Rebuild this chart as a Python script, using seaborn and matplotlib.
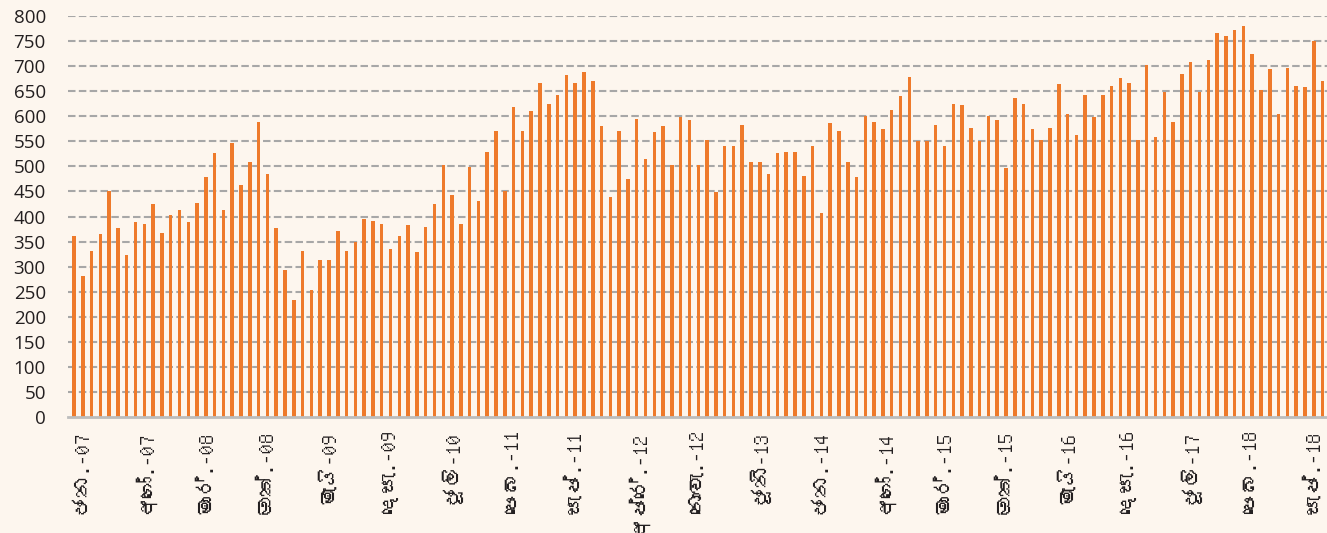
import numpy as np
import pandas as pd
import matplotlib
matplotlib.use("Agg")
import matplotlib.pyplot as plt
import seaborn as sns
from matplotlib import font_manager, ft2font

# monthly values, Jan 2007 - Nov 2018
values = [
    361, 281, 332, 365, 451, 377, 323, 389, 385, 425, 368, 403,
    413, 389, 427, 479, 527, 413, 547, 463, 509, 589, 485, 377,
    293, 233, 332, 254, 314, 314, 371, 332, 350, 395, 391, 385,
    335, 362, 383, 329, 379, 425, 503, 443, 385, 499, 431, 529,
    571, 451, 619, 571, 610, 667, 625, 643, 682, 667, 688, 671,
    580, 439, 571, 475, 595, 515, 568, 580, 503, 598, 592, 503,
    553, 449, 541, 541, 583, 509, 509, 485, 527, 529, 529, 481,
    541, 407, 587, 571, 509, 479, 601, 589, 575, 613, 640, 679,
    550, 550, 583, 541, 625, 622, 577, 550, 601, 592, 497, 637,
    625, 574, 553, 577, 664, 604, 562, 643, 599, 643, 661, 676,
    667, 553, 703, 559, 649, 589, 685, 709, 649, 712, 766, 760,
    772, 781, 724, 652, 694, 604, 697, 661, 658, 751, 671,
]
month_names = ["ජන.", "පෙබ.", "මාර්.", "අප්රේ.", "මැයි", "ජූනි",
               "ජූලි", "අගෝ.", "සැප්.", "ඔක්.", "නොවැ.", "දෙසැ."]
years = list(range(2007, 2019))
yticks = list(range(0, 801, 50))

labels = [f"{m}-{y % 100:02d}" for y in years for m in month_names][:len(values)]
df = pd.DataFrame({"month": labels, "value": values})


def sinhala_font():
    # look for any installed font that actually has Sinhala glyphs
    for f in font_manager.fontManager.ttflist:
        try:
            if 0x0DA2 in ft2font.FT2Font(f.fname).get_charmap():
                return f.name
        except Exception:
            pass
    return None


sns.set_style("white")
plt.rcParams["font.family"] = ["Open Sans", "DejaVu Sans"]
sin = sinhala_font()
xfams = ([sin] if sin else []) + ["DejaVu Sans"]

bg = "#FDF6EE"
fig = plt.figure(figsize=(13.27, 5.33), dpi=100, facecolor=bg)
ax = fig.add_axes([68 / 1327, 116 / 533, (1327 - 68) / 1327, (417 - 16) / 533])
ax.set_facecolor(bg)

for y in yticks[1:]:
    ax.axhline(y, color="#A7A7A7", lw=1.5, dashes=(3.6, 1.6), zorder=0)

sns.barplot(data=df, x="month", y="value", order=labels, color="#EE7A2B",
            saturation=1, width=0.4, linewidth=0, ax=ax, zorder=2)

n = len(values)
ax.set_xlim(-0.68, n - 0.7)
ax.set_ylim(0, 800)
ax.set_yticks(yticks)
ax.set_yticklabels([str(v) for v in yticks], fontsize=13.5, color="#231F20")
ax.tick_params(axis="y", length=0, pad=16)

idx = list(range(0, n, 7))
ax.set_xticks([i + 0.9 for i in idx])
ax.set_xticklabels([labels[i] for i in idx], rotation=90, fontsize=15,
                   color="#231F20", ha="center", va="top", family=xfams)
ax.tick_params(axis="x", which="major", length=0, pad=10)
ax.set_xticks(np.arange(n + 1) - 0.5, minor=True)
ax.tick_params(axis="x", which="minor", length=5.5, width=1.4, color="#BDBDBD",
               direction="out")
ax.set_xlabel("")
ax.set_ylabel("")

for s in ["top", "right", "left"]:
    ax.spines[s].set_visible(False)
ax.spines["bottom"].set_color("#BDBDBD")
ax.spines["bottom"].set_linewidth(2)

fig.savefig("out.png", dpi=100, facecolor=bg)
